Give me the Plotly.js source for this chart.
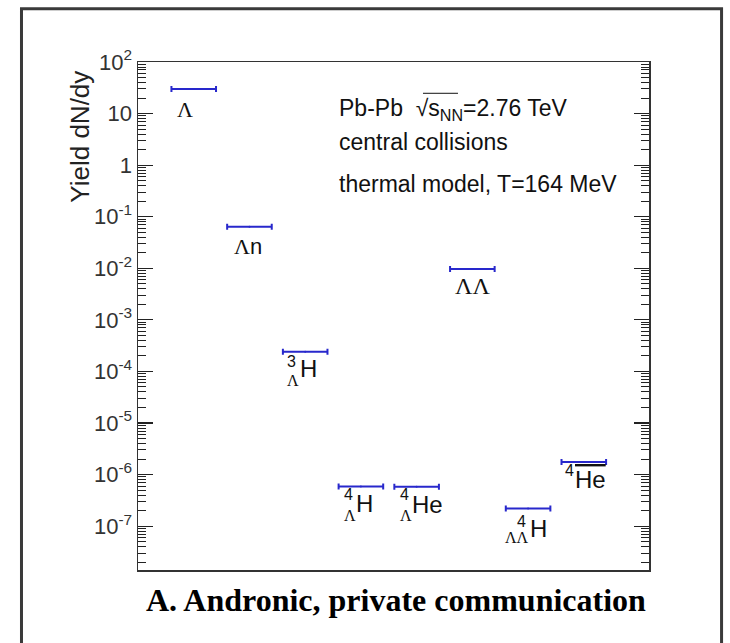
<!DOCTYPE html>
<html><head><meta charset="utf-8">
<script src="https://cdn.plot.ly/plotly-3.0.1.min.js"></script>
<style>html,body{margin:0;padding:0;background:#fff}#chart{width:730px;height:643px}</style>
</head><body><div id="chart"></div>
<script>
// ---- data ----
const categories = ['Λ', 'Λn', '3ΛH', '4ΛH', '4ΛHe', 'ΛΛ', '4ΛΛH', 'anti-4He'];
const xPositions = [1, 2, 3, 4, 5, 6, 7, 8];
const yields = [30, 0.064, 2.4e-4, 5.9e-7, 5.8e-7, 0.0097, 2.2e-7, 1.76e-6];
const yTickValues = [1e2, 1e1, 1, 1e-1, 1e-2, 1e-3, 1e-4, 1e-5, 1e-6, 1e-7];
const yTickLabels = ['10<sup>2</sup>', '10', '1', '10<sup>-1</sup>', '10<sup>-2</sup>', '10<sup>-3</sup>',
  '10<sup>-4</sup>', '10<sup>-5</sup>', '10<sup>-6</sup>', '10<sup>-7</sup>'];

// minor log ticks (2..9 per decade)
const minorTicks = [];
for (let d = -8; d <= 1; d++) for (let k = 2; k <= 9; k++) minorTicks.push(k * Math.pow(10, d));

const SANS = 'Liberation Sans, Arial, sans-serif';
const SERIF = 'Liberation Serif, Times New Roman, serif';
const SER = s => '<span style="font-family:Liberation Serif">' + s + '</span>';

// label pieces for each category: [text, dx, dy(px down), size, family]
const labelParts = [
  [['Λ', -9, 21, 22, SERIF]],
  [[SER('Λ') + 'n', -1, 20, 22, SANS]],
  [['3', -13.5, 10, 16, SANS], ['Λ', -12, 29, 16, SERIF], ['H', 3, 17, 24, SANS]],
  [['4', -12.5, 8, 16, SANS], ['Λ', -11, 29, 16, SERIF], ['H', 4, 17.5, 24, SANS]],
  [['4', -12.5, 8, 16, SANS], ['Λ', -11, 29, 16, SERIF], ['He', 10.7, 17.5, 24, SANS]],
  [['ΛΛ', 0, 17.5, 24, SERIF]],
  [['4', -7, 13, 16, SANS], ['ΛΛ', -11, 29, 16, SERIF], ['H', 10, 20, 24, SANS]],
  [['4', -14, 8.7, 16, SANS], ['<span style="text-decoration:overline">He</span>', 7, 17.7, 24, SANS]]
];

const annotations = [];
labelParts.forEach((parts, i) => {
  parts.forEach(p => {
    annotations.push({
      x: xPositions[i], y: Math.log10(yields[i]), xref: 'x', yref: 'y',
      text: p[0], showarrow: false, xanchor: 'center', yanchor: 'middle',
      xshift: p[1], yshift: -p[2], font: {family: p[4], size: p[3], color: '#111'}
    });
  });
});

// text block
const txtFont = {family: SANS, size: 23, color: '#111'};
annotations.push(
  {xref: 'paper', yref: 'paper', x: 0.389, y: 0.9067, xanchor: 'left', yanchor: 'middle', showarrow: false,
   text: 'Pb-Pb  √s<sub>NN</sub>=2.76 TeV', font: txtFont},
  {xref: 'paper', yref: 'paper', x: 0.389, y: 0.8425, xanchor: 'left', yanchor: 'middle', showarrow: false,
   text: 'central collisions', font: txtFont},
  {xref: 'paper', yref: 'paper', x: 0.389, y: 0.7598, xanchor: 'left', yanchor: 'middle', showarrow: false,
   text: 'thermal model, T=164 MeV', font: txtFont},
  {xref: 'paper', yref: 'paper', x: -0.1135, y: 0.853, xanchor: 'center', yanchor: 'middle', showarrow: false,
   textangle: -90, text: 'Yield dN/dy', font: {family: SANS, size: 26, color: '#222'}},
  {xref: 'paper', yref: 'paper', x: 0.504, y: -0.059, xanchor: 'center', yanchor: 'middle', showarrow: false,
   text: '<b>A. Andronic, private communication</b>', font: {family: SERIF, size: 32, color: '#000'}}
);

const trace = {
  type: 'scatter', mode: 'markers', x: xPositions, y: yields,
  marker: {size: 2, color: '#2828cc'},
  error_x: {type: 'constant', value: 0.4, color: '#2828cc', thickness: 2, width: 3},
  hoverinfo: 'skip', showlegend: false
};

const layout = {
  width: 730, height: 643,
  margin: {l: 138, r: 81, t: 62, b: 73, pad: 0},
  paper_bgcolor: '#fff', plot_bgcolor: '#fff',
  showlegend: false,
  xaxis: {range: [0, 9.17], showgrid: false, zeroline: false, showticklabels: false, ticks: '',
          showline: true, mirror: true, linecolor: '#333', linewidth: 1.5, fixedrange: true},
  yaxis: {type: 'log', range: [-7.85, 2], showgrid: false, zeroline: false,
          tickmode: 'array', tickvals: yTickValues, ticktext: yTickLabels,
          ticks: 'inside', ticklen: 15, tickwidth: 1.2, tickcolor: '#222',
          minor: {tickmode: 'array', tickvals: minorTicks, ticks: 'inside', ticklen: 8, tickwidth: 1, tickcolor: '#222', showgrid: false},
          showline: true, mirror: 'allticks', linecolor: '#333', linewidth: 1.5,
          tickfont: {family: SANS, size: 22, color: '#333'}, fixedrange: true},
  shapes: [
    {type: 'rect', xref: 'paper', yref: 'paper', x0: -0.228, x1: 1.142, y0: -0.18, y1: 1.105,
     line: {color: '#3a3a3a', width: 3}, fillcolor: 'rgba(0,0,0,0)', layer: 'below'},
    // overline of the square-root sign in the caption
    {type: 'line', xref: 'paper', yref: 'paper', x0: 0.5577, x1: 0.6262, y0: 0.9384, y1: 0.9384,
     line: {color: '#111', width: 1}}
  ],
  annotations: annotations
};

Plotly.newPlot('chart', [trace], layout, {staticPlot: true, displayModeBar: false});
</script></body></html>
